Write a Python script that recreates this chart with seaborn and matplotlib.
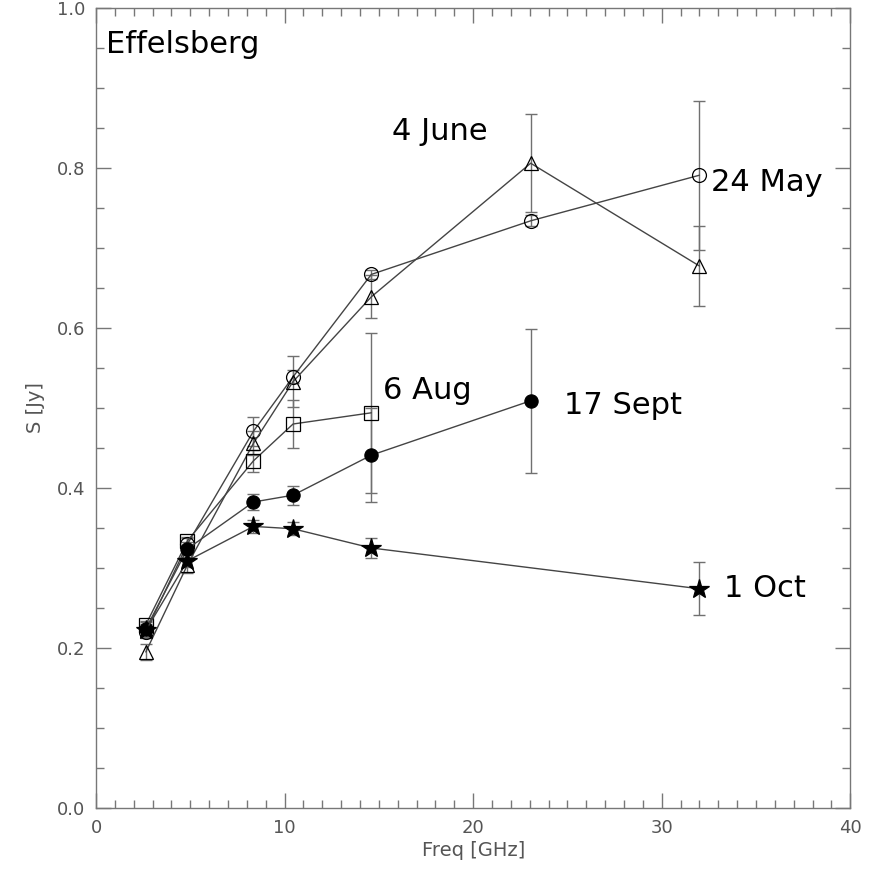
import matplotlib
matplotlib.use("Agg")
import matplotlib.pyplot as plt
import seaborn as sns
import pandas as pd
from matplotlib.ticker import MultipleLocator, FormatStrFormatter

# Observing frequencies (GHz)
freq = [2.64, 4.85, 8.35, 10.45, 14.6, 23.05, 32.0]

# Flux densities (Jy) and uncertainties for each epoch
may24_flux = [0.220, 0.330, 0.471, 0.539, 0.667, 0.734, 0.791]
may24_err = [0.008, 0.008, 0.018, 0.008, 0.006, 0.007, 0.093]

june4_flux = [0.195, 0.304, 0.456, 0.533, 0.639, 0.806, 0.6775]
june4_err = [0.010, 0.010, 0.015, 0.032, 0.027, 0.061, 0.050]

aug6_freq = [2.64, 4.85, 8.35, 10.45, 14.6]
aug6_flux = [0.229, 0.334, 0.434, 0.480, 0.494]
aug6_err = [0.005, 0.005, 0.014, 0.030, 0.100]

sep17_freq = [2.64, 4.85, 8.35, 10.45, 14.6, 23.05]
sep17_flux = [0.224, 0.324, 0.3825, 0.391, 0.441, 0.509]
sep17_err = [0.008, 0.008, 0.010, 0.012, 0.059, 0.090]

oct1_freq = [2.64, 4.85, 8.35, 10.45, 14.6, 32.0]
oct1_flux = [0.222, 0.309, 0.352, 0.349, 0.325, 0.274]
oct1_err = [0.008, 0.008, 0.008, 0.008, 0.012, 0.033]

# Epoch labels and their anchor positions (GHz, Jy)
labels = ["4 June", "24 May", "6 Aug", "17 Sept", "1 Oct"]
label_x = [15.7, 32.6, 15.2, 24.8, 33.3]
label_y = [0.846, 0.782, 0.522, 0.503, 0.274]

sns.set_style("white")
plt.rcParams["font.family"] = ["DejaVu Sans"]

fig = plt.figure(figsize=(8.73, 8.73), dpi=100)
ax = fig.add_axes([0.110, 0.0745, 0.864, 0.9163])

line_c = "#444444"
err_c = "#707070"

series = [
    (freq, may24_flux, may24_err, "o", "none", 10),
    (freq, june4_flux, june4_err, "^", "none", 10),
    (aug6_freq, aug6_flux, aug6_err, "s", "none", 9.5),
    (sep17_freq, sep17_flux, sep17_err, "o", "black", 9.5),
    (oct1_freq, oct1_flux, oct1_err, "*", "black", 15),
]

for fx, fy, fe, mk, fc, ms in series:
    df = pd.DataFrame({"freq": fx, "flux": fy})
    ax.errorbar(fx, fy, yerr=fe, fmt="none", ecolor=err_c, elinewidth=1.0,
                capsize=4, capthick=1.0, zorder=2)
    sns.lineplot(data=df, x="freq", y="flux", ax=ax, color=line_c, lw=1.0,
                 marker=mk, markersize=ms, markerfacecolor=fc,
                 markeredgecolor="black", markeredgewidth=0.9,
                 sort=False, zorder=3)

for t, lx, ly in zip(labels, label_x, label_y):
    ax.text(lx, ly, t, fontsize=22, va="center", ha="left", color="black")

ax.text(0.55, 0.955, "Effelsberg", fontsize=22, va="center", ha="left",
        color="black")

ax.set_xlim(0, 40)
ax.set_ylim(0, 1.0)
ax.xaxis.set_major_locator(MultipleLocator(10))
ax.xaxis.set_minor_locator(MultipleLocator(1))
ax.yaxis.set_major_locator(MultipleLocator(0.2))
ax.yaxis.set_minor_locator(MultipleLocator(0.05))
ax.yaxis.set_major_formatter(FormatStrFormatter("%.1f"))

grey = "#777777"
for s in ax.spines.values():
    s.set_color(grey)
    s.set_linewidth(1.0)
ax.tick_params(which="both", direction="in", top=True, right=True,
               bottom=True, left=True,
               color=grey, width=1.0, labelcolor="#555555", labelsize=13)
ax.tick_params(which="major", length=11, pad=8)
ax.tick_params(which="minor", length=5.5)

ax.set_xlabel("Freq [GHz]", fontsize=14, color="#555555", labelpad=3)
ax.set_ylabel("S [Jy]", fontsize=14, color="#555555", labelpad=8)

fig.savefig("out.png", dpi=100)
